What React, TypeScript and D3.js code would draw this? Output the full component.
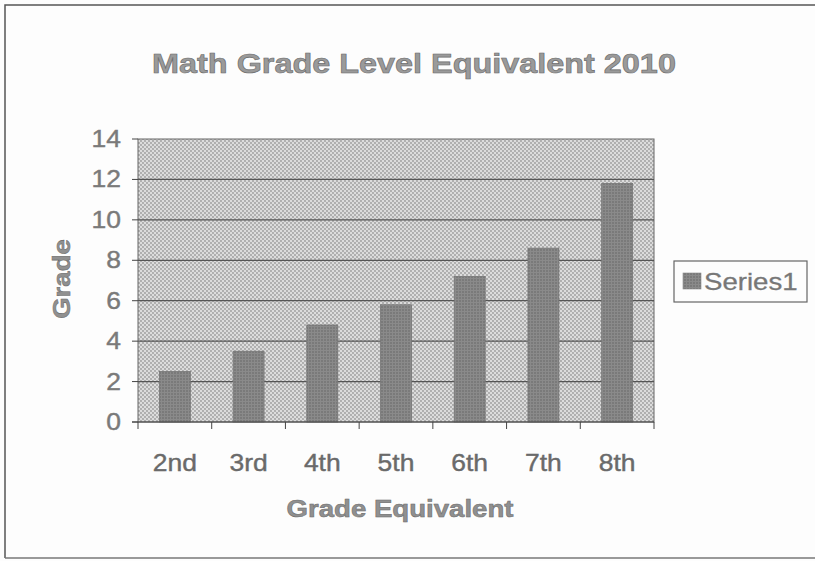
import React from "react";
import * as d3 from "d3";

const categories = ["2nd", "3rd", "4th", "5th", "6th", "7th", "8th"];
const values = [2.5, 3.5, 4.8, 5.8, 7.2, 8.6, 11.8];
const yTicks = [0, 2, 4, 6, 8, 10, 12, 14];
const seriesName = "Series1";
const title = "Math Grade Level Equivalent 2010";
const xTitle = "Grade Equivalent";
const yTitle = "Grade";

const W = 815;
const H = 561;
const plot = { left: 138, right: 654, top: 139, bottom: 422 };

const sx = (cx: number, k: number) => `translate(${cx},0) scale(${k},1) translate(${-cx},0)`;

export default function App() {
  const x = d3
    .scaleBand<string>()
    .domain(categories)
    .range([plot.left, plot.right])
    .paddingInner(0.58)
    .paddingOuter(0.29);
  const xb = d3.scaleBand<string>().domain(categories).range([plot.left, plot.right]);
  const y = d3.scaleLinear().domain([0, 14]).range([plot.bottom, plot.top]);
  const font = "Liberation Sans, Arial, sans-serif";

  return (
    <svg
      width={W}
      height={H}
      style={{ position: "absolute", left: 0, top: 0, background: "#fdfdfd" }}
    >
      <defs>
        <pattern id="dots" width="4" height="4" patternUnits="userSpaceOnUse">
          <rect width="4" height="4" fill="#dcdcdc" />
          <circle cx="1" cy="1" r="0.9" fill="#9a9a9a" />
          <circle cx="3" cy="3" r="0.9" fill="#9a9a9a" />
        </pattern>
        <pattern id="bardots" width="3" height="3" patternUnits="userSpaceOnUse">
          <rect width="3" height="3" fill="#8a8a8a" />
          <circle cx="1" cy="1" r="0.8" fill="#666" />
        </pattern>
      </defs>
      <rect x={0} y={0} width={W} height={H} fill="#fdfdfd" />
      <path d={`M5,${H - 3} L5,5 L${W},5`} fill="none" stroke="#555" strokeWidth={1.5} />
      <line x1={5} x2={W} y1={H - 3} y2={H - 3} stroke="#777" strokeWidth={1.5} />

      <text
        x={414}
        y={73}
        textAnchor="middle"
        fontFamily={font}
        fontWeight="bold"
        fontSize={27}
        fill="#9a9a9a"
        stroke="#6a6a6a"
        strokeWidth={0.6}
        transform={sx(414, 1.2)}
      >
        {title}
      </text>

      <rect
        x={plot.left}
        y={plot.top}
        width={plot.right - plot.left}
        height={plot.bottom - plot.top}
        fill="url(#dots)"
        stroke="#666"
        strokeWidth={1}
      />
      {yTicks.map((t) => (
        <g key={t}>
          {t > 0 && t < 14 && (
            <line x1={plot.left} x2={plot.right} y1={y(t)} y2={y(t)} stroke="#555" strokeWidth={1.2} />
          )}
          <line x1={plot.left - 6} x2={plot.left} y1={y(t)} y2={y(t)} stroke="#444" />
          <text
            x={121}
            y={y(t)}
            dy="0.35em"
            textAnchor="end"
            fontFamily={font}
            fontSize={23}
            fill="#7a7a7a"
            stroke="#7a7a7a"
            strokeWidth={0.4}
            transform={sx(121, 1.15)}
          >
            {t}
          </text>
        </g>
      ))}

      {categories.map((c, i) => (
        <rect
          key={c}
          x={x(c)}
          y={y(values[i])}
          width={x.bandwidth()}
          height={y(0) - y(values[i])}
          fill="url(#bardots)"
          stroke="#777"
          strokeWidth={0.8}
        />
      ))}

      <line x1={plot.left - 6} x2={plot.right} y1={plot.bottom} y2={plot.bottom} stroke="#444" strokeWidth={1.2} />
      {categories.concat([""]).map((c, i) => {
        const xx = i < categories.length ? (xb(c) as number) : plot.right;
        return <line key={i} x1={xx} x2={xx} y1={plot.bottom} y2={plot.bottom + 7} stroke="#444" />;
      })}
      {categories.map((c) => {
        const cx = (xb(c) as number) + xb.bandwidth() / 2;
        return (
          <text
            key={c}
            x={cx}
            y={471}
            textAnchor="middle"
            fontFamily={font}
            fontSize={23}
            fill="#6a6a6a"
            stroke="#6a6a6a"
            strokeWidth={0.4}
            transform={sx(cx, 1.15)}
          >
            {c}
          </text>
        );
      })}

      <text
        x={400}
        y={517}
        textAnchor="middle"
        fontFamily={font}
        fontWeight="bold"
        fontSize={23}
        fill="#909090"
        stroke="#6a6a6a"
        strokeWidth={0.5}
        transform={sx(400, 1.2)}
      >
        {xTitle}
      </text>
      <text
        transform={`translate(70,279) rotate(-90) scale(1.2,1)`}
        textAnchor="middle"
        fontFamily={font}
        fontWeight="bold"
        fontSize={23}
        fill="#909090"
        stroke="#6a6a6a"
        strokeWidth={0.5}
      >
        {yTitle}
      </text>

      <rect x={674} y={261} width={133} height={41} fill="#fdfdfd" stroke="#666" strokeWidth={1.2} />
      <rect x={683} y={273} width={18} height={16} fill="url(#bardots)" stroke="#888" strokeWidth={0.6} />
      <text
        x={704}
        y={290}
        fontFamily={font}
        fontSize={23}
        fill="#777"
        stroke="#777"
        strokeWidth={0.3}
        transform={sx(704, 1.2)}
      >
        {seriesName}
      </text>
    </svg>
  );
}
